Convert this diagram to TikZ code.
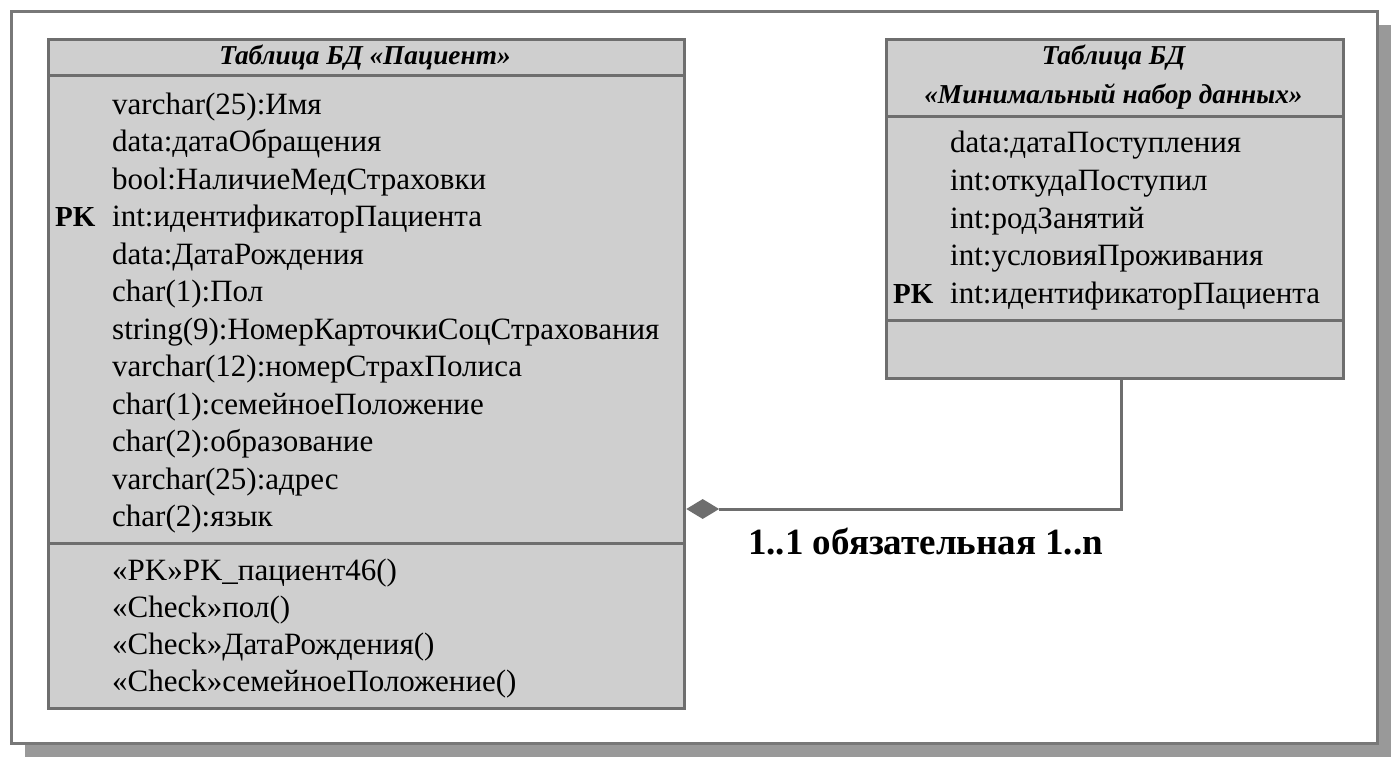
\documentclass[tikz,border=0pt]{standalone}
\usepackage{fontspec}
\setmainfont{Liberation Serif}
\usetikzlibrary{shapes.geometric}
\definecolor{tblfill}{RGB}{207,207,207}
\definecolor{tblline}{RGB}{110,110,110}
\definecolor{shadowc}{RGB}{153,153,153}
\definecolor{framec}{RGB}{120,120,120}
\begin{document}
\begin{tikzpicture}[x=1pt,y=-1pt,
  row/.style={anchor=base west, inner sep=0pt, font=\fontsize{31}{36}\selectfont},
  pkmark/.style={anchor=base west, inner sep=0pt, font=\fontsize{29}{34}\selectfont\bfseries},
  hdr/.style={anchor=base, inner sep=0pt, font=\fontsize{27.3}{32}\selectfont\bfseries\itshape},
  tbl/.style={draw=tblline, line width=3pt, fill=tblfill, anchor=north west, inner sep=0pt},
  div/.style={draw=tblline, line width=3pt},
]
\useasboundingbox (0,0) rectangle (1391,757);
\fill[shadowc] (25,25) rectangle (1391,757);
\draw[framec, line width=3pt, fill=white] (11,12) rectangle (1377,743);

% left table
\node[tbl, minimum width=636pt, minimum height=669pt] (pat) at (47,38) {};
\coordinate (patd1) at (0,76);
\coordinate (patd2) at (0,543);
\draw[div] (pat.west |- patd1) -- (pat.east |- patd1);
\draw[div] (pat.west |- patd2) -- (pat.east |- patd2);
\node[hdr] (pathdr) at (365,65) {Таблица БД «Пациент»};
\foreach \t [count=\i] in {varchar(25):Имя, data:датаОбращения, bool:НаличиеМедСтраховки,
  int:идентификаторПациента, data:ДатаРождения, char(1):Пол,
  string(9):НомерКарточкиСоцСтрахования, varchar(12):номерСтрахПолиса,
  char(1):семейноеПоложение, char(2):образование, varchar(25):адрес, char(2):язык}
  \node[row] (pa\i) at (112,{114+37.5*(\i-1)}) {\t};
\node[pkmark] (patpk) at (55,226.5) {PK};
\foreach \t [count=\i] in {«PK»PK\_пациент46(), «Check»пол(), «Check»ДатаРождения(),
  «Check»семейноеПоложение()}
  \node[row] (po\i) at (112,{580+37.3*(\i-1)}) {\t};

% right table
\node[tbl, minimum width=457pt, minimum height=339pt] (mds) at (885,38) {};
\coordinate (mdsd1) at (0,117);
\coordinate (mdsd2) at (0,320);
\draw[div] (mds.west |- mdsd1) -- (mds.east |- mdsd1);
\draw[div] (mds.west |- mdsd2) -- (mds.east |- mdsd2);
\node[hdr] (mdshdr1) at (1113.5,65) {Таблица БД};
\node[hdr] (mdshdr2) at (1113.5,104) {«Минимальный набор данных»};
\foreach \t [count=\i] in {data:датаПоступления, int:откудаПоступил, int:родЗанятий,
  int:условияПроживания, int:идентификаторПациента}
  \node[row] (ma\i) at (950,{153+37.5*(\i-1)}) {\t};
\node[pkmark] (mdspk) at (893,303) {PK};

% relation
\coordinate (dy) at (0,509);
\node[diamond, fill=tblline, draw=none, inner sep=0pt, minimum width=33pt,
  minimum height=20pt, anchor=west] (dia) at (pat.east |- dy) {};
\coordinate (cx) at (1121,0);
\draw[div] (dia.east) -| (mds.south -| cx);
\node[anchor=base west, inner sep=0pt, font=\fontsize{37}{42}\selectfont\bfseries] (rel) at (748,554) {1..1 обязательная 1..n};
\end{tikzpicture}
\end{document}
